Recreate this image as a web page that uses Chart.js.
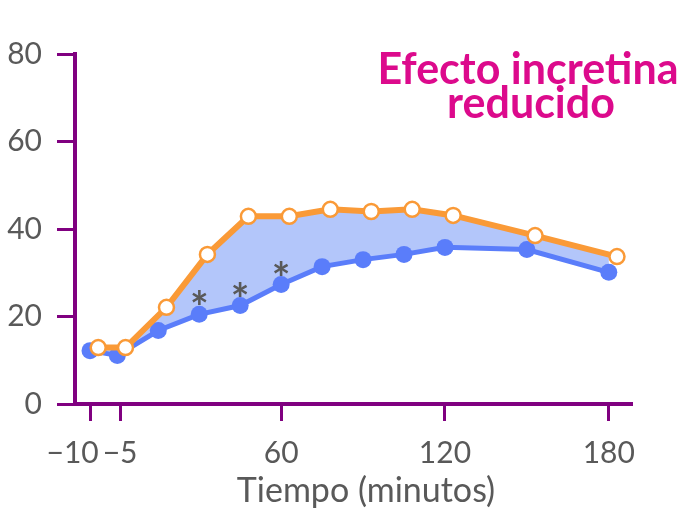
<!DOCTYPE html>
<html>
<head>
<meta charset="utf-8">
<script src="https://cdn.jsdelivr.net/npm/chart.js@4"></script>
<style>
  html, body { margin: 0; padding: 0; background: #fff; }
  #wrap { width: 684px; height: 509px; }
</style>
</head>
<body>
<div id="wrap"><canvas id="myChart"></canvas></div>
<script>
// minutes after the meal
const timesLow = [-10, 0, 15, 30, 45, 60, 75, 90, 105, 120, 150, 180];
const timesHigh = [-7, 3, 18, 33, 48, 63, 78, 93, 108, 123, 153, 183];
const valuesHigh = [12.9, 12.9, 22.1, 34.2, 42.9, 42.9, 44.5, 44.0, 44.5, 43.1, 38.5, 33.7];
const valuesLow = [12.2, 11.1, 16.8, 20.5, 22.5, 27.3, 31.4, 33.0, 34.2, 35.8, 35.3, 30.1];
const starTimes = [30, 45, 60];
const xTickValues = [-10, 1, 60, 120, 180];
// the first label sits left of its tick in the original, hence the figure spaces
const xTickLabels = ["\u221210\u2007\u2007", "\u22125", "60", "120", "180"];
const titleLines = ["Efecto incretina", "reducido"];
const xTitle = "Tiempo (minutos)";

const purple = "#800080";
const grey = "#595959";
const font = "Lato";

const toPoints = (xs, ys) => xs.map((x, i) => ({ x: x, y: ys[i] }));

const extras = {
  id: "extras",
  afterDatasetsDraw(chart) {
    const ctx = chart.ctx;
    const x = chart.scales.x;
    const y = chart.scales.y;
    ctx.save();
    ctx.fillStyle = grey;
    ctx.font = "bold 44px " + font;
    ctx.textAlign = "center";
    ctx.textBaseline = "alphabetic";
    starTimes.forEach(t => {
      const i = timesLow.indexOf(t);
      ctx.fillText("*", x.getPixelForValue(t), y.getPixelForValue(valuesLow[i]) + 9);
    });
    ctx.restore();
  },
  afterDraw(chart) {
    const ctx = chart.ctx;
    ctx.save();
    ctx.textAlign = "center";
    ctx.textBaseline = "alphabetic";
    ctx.fillStyle = "#DC0A8C";
    ctx.font = "bold 43px " + font;
    ctx.fillText(titleLines[0], 528, 84);
    ctx.fillText(titleLines[1], 531, 118);
    ctx.fillStyle = grey;
    ctx.font = "34px " + font;
    ctx.fillText(xTitle, 366, 502);
    ctx.restore();
  }
};

const data = {
  datasets: [
    {
      label: "alto",
      data: toPoints(timesHigh, valuesHigh),
      borderColor: "#FA9A37",
      borderWidth: 6,
      pointRadius: 7.5,
      pointBorderWidth: 2.5,
      pointBackgroundColor: "#ffffff",
      pointBorderColor: "#FA9A37",
      fill: { target: 1 },
      backgroundColor: "#B3C6FA",
      tension: 0,
    },
    {
      label: "bajo",
      data: toPoints(timesLow, valuesLow),
      borderColor: "#5A7DFA",
      borderWidth: 5,
      pointRadius: 8.5,
      pointBorderWidth: 0,
      pointBackgroundColor: "#5A7DFA",
      fill: false,
      tension: 0,
    },
  ],
};

const config = {
  type: "line",
  data: data,
  plugins: [extras],
  options: {
    responsive: true,
    maintainAspectRatio: false,
    animation: false,
    layout: {
      padding: { top: 54, right: 52, left: 0, bottom: 0 },
    },
    scales: {
      x: {
        type: "linear",
        min: -15.5,
        max: 188.5,
        afterFit: (s) => { s.height = 105; },
        afterBuildTicks: (s) => { s.ticks = xTickValues.map(v => ({ value: v })); },
        grid: {
          display: true,
          drawOnChartArea: false,
          drawTicks: true,
          tickLength: 17,
          tickWidth: 3,
          tickColor: purple,
        },
        border: { display: true, color: purple, width: 4 },
        ticks: {
          autoSkip: false,
          maxRotation: 0,
          padding: 14,
          color: grey,
          font: { family: font, size: 30 },
          callback: (value, index) => xTickLabels[index],
        },
      },
      y: {
        min: 0,
        max: 80,
        afterFit: (s) => { s.width = 75; },
        grid: {
          display: true,
          drawOnChartArea: false,
          drawTicks: true,
          tickLength: 18,
          tickWidth: 3,
          tickColor: purple,
        },
        border: { display: true, color: purple, width: 4 },
        ticks: {
          stepSize: 20,
          padding: 15,
          color: grey,
          font: { family: font, size: 30 },
        },
      },
    },
    plugins: {
      legend: { display: false },
      tooltip: { enabled: false },
      filler: { propagate: false, drawTime: "beforeDatasetsDraw" },
    },
  },
};

const myChart = new Chart(document.getElementById("myChart"), config);
</script>
</body>
</html>
